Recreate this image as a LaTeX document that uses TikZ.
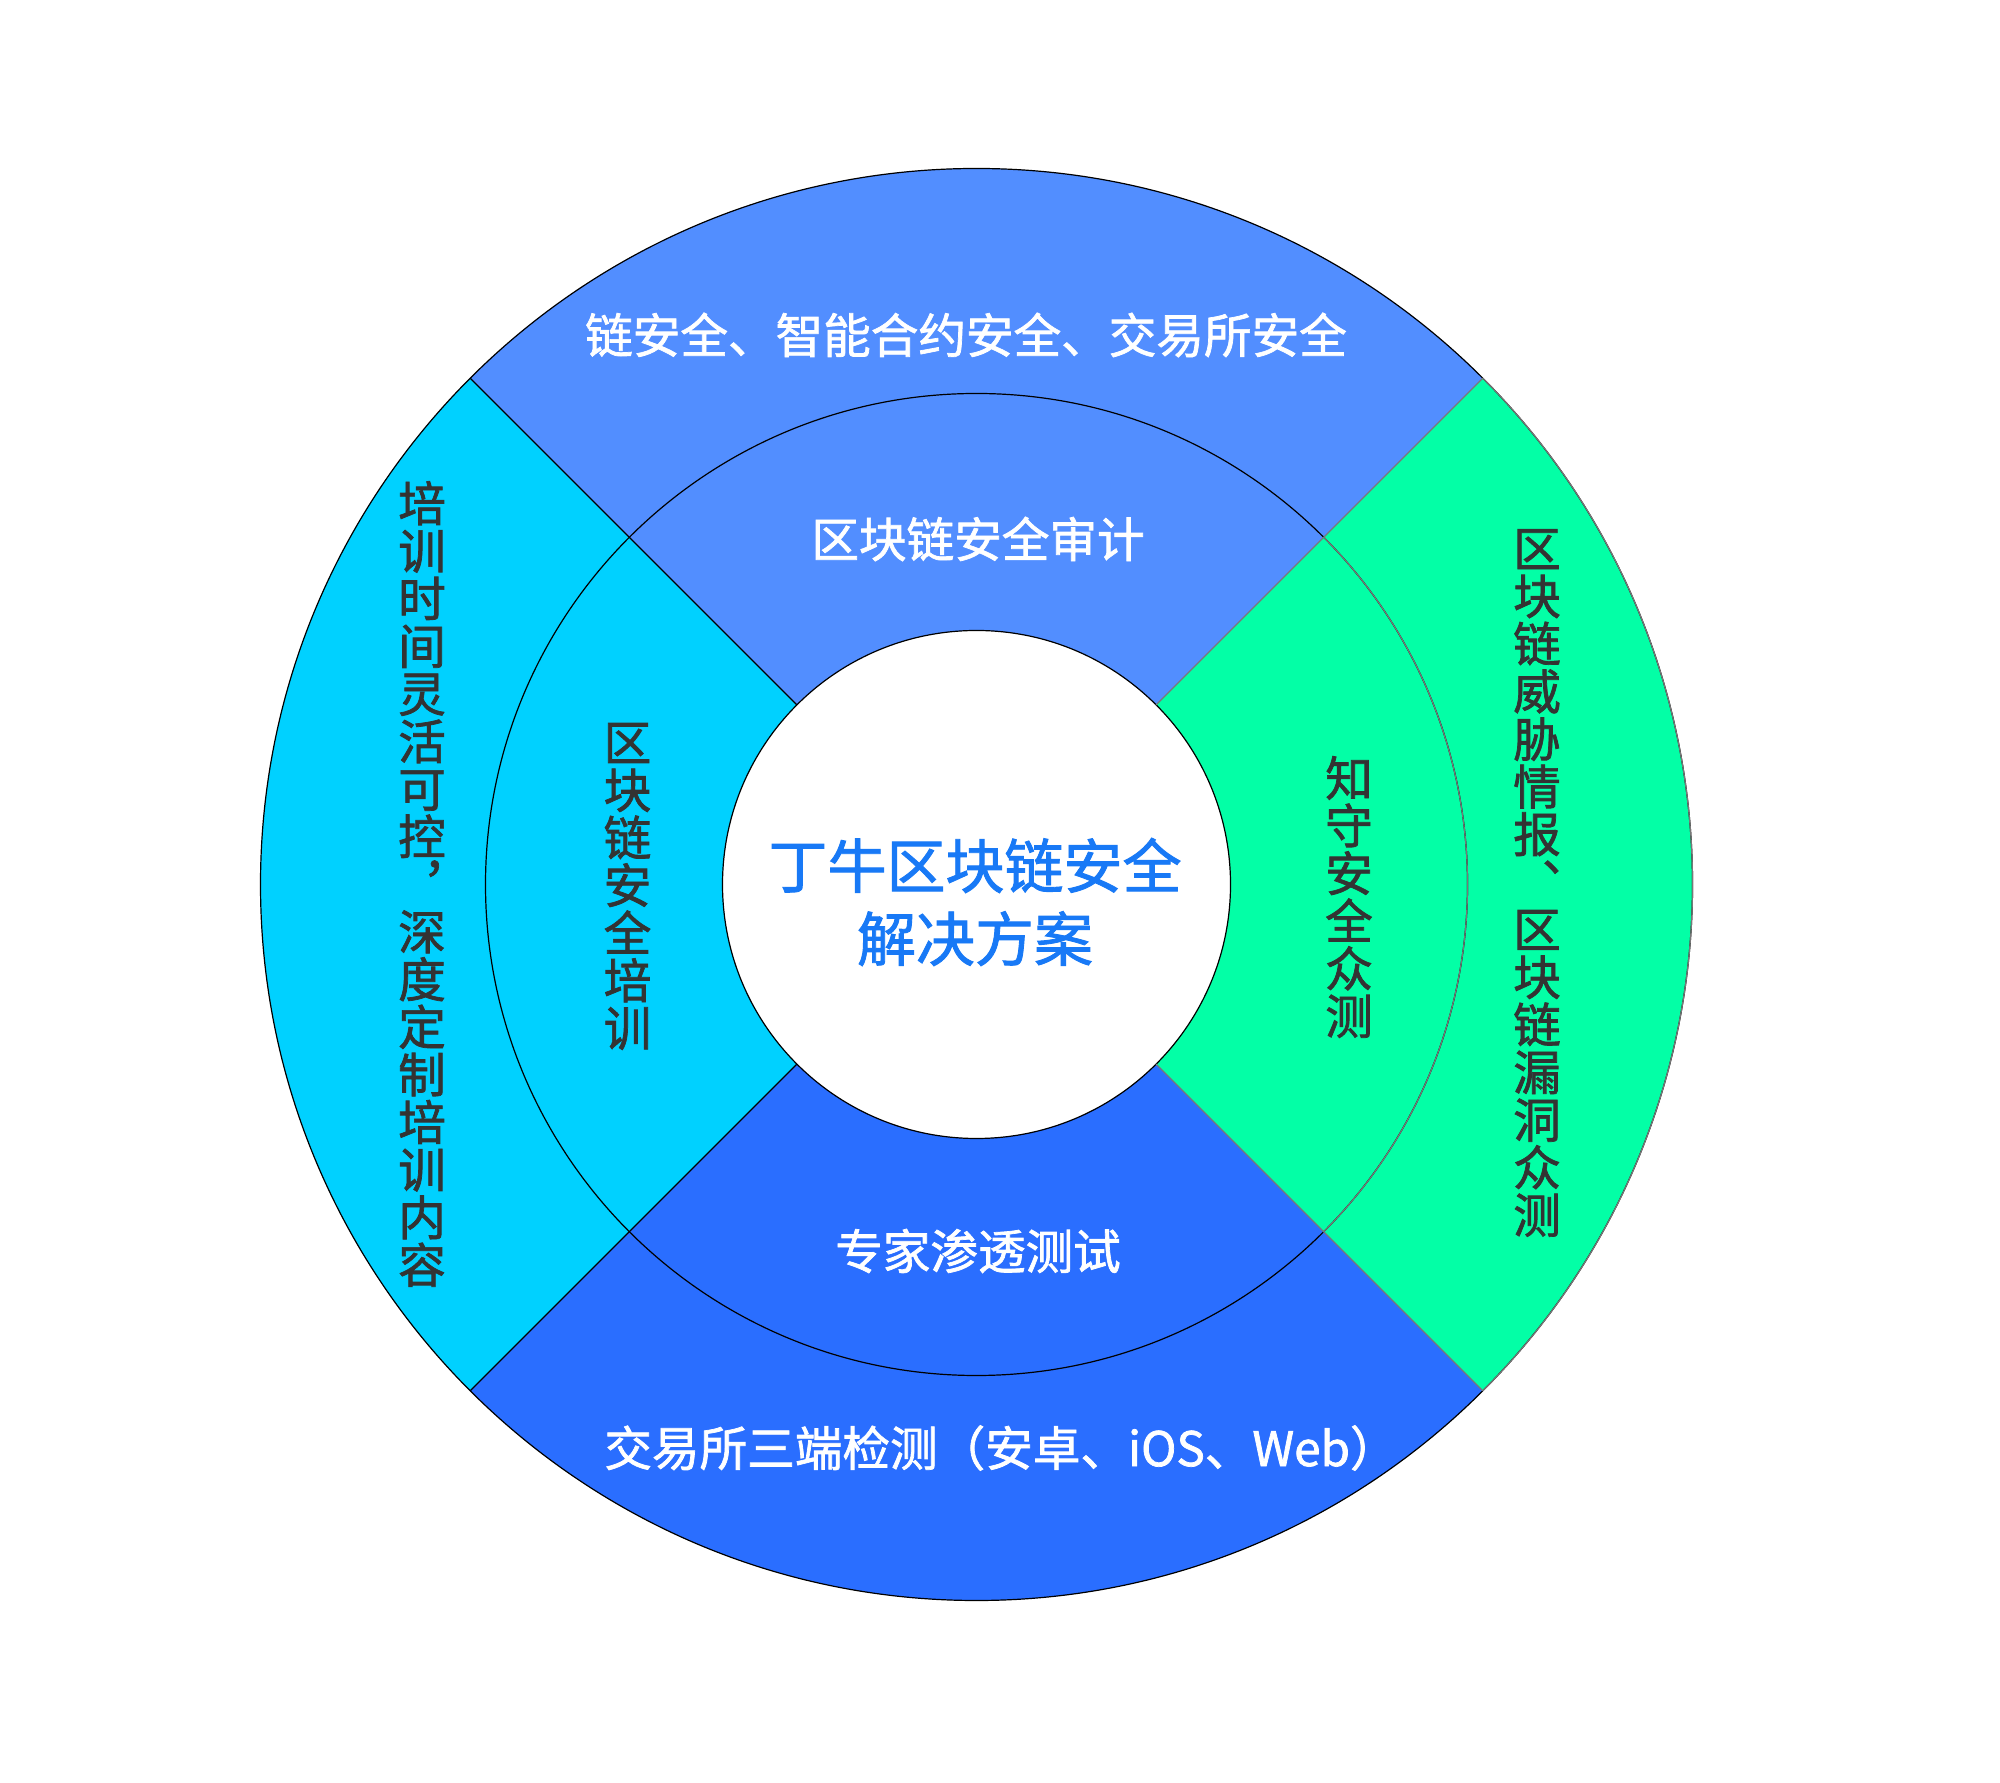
\documentclass[tikz,border=0pt]{standalone}
\usepackage{fontspec}
\setmainfont{Noto Sans CJK SC}[FakeBold=1.5]
\usetikzlibrary{calc}
\definecolor{topc}{RGB}{82,142,255}
\definecolor{botc}{RGB}{42,110,255}
\definecolor{leftc}{RGB}{0,209,255}
\definecolor{greenc}{RGB}{3,255,166}
\definecolor{darktext}{RGB}{51,51,51}
\definecolor{ctext}{RGB}{24,121,246}
\definecolor{edgegray}{RGB}{120,120,120}
\tikzset{
  wt/.style={text=white, font=\fontsize{23.8}{28}\selectfont, inner sep=0pt},
  vt/.style={text=darktext, font=\fontsize{23.8}{23.8}\selectfont, align=center, inner sep=0pt},
  ct/.style={text=ctext, font=\fontsize{29.5}{36.5}\selectfont, align=center, inner sep=0pt},
  ring/.style={draw=black, line width=0.6pt},
  gring/.style={draw=edgegray, line width=0.6pt}
}
\newcommand{\sector}[3]{%
  \fill[#3] ($(C)+(#1:716)$) arc[start angle=#1,end angle=#2,radius=716]
     -- ($(C)+(#2:254)$) arc[start angle=#2,end angle=#1,radius=254] -- cycle;}
\begin{document}
\begin{tikzpicture}[x=0.5pt,y=0.5pt]
\useasboundingbox (0,0) rectangle (2000,1782);
\fill[white] (0,0) rectangle (2000,1782);
\coordinate (C) at (976.5,897.5);
% sectors
\sector{45}{135}{topc}
\sector{135}{225}{leftc}
\sector{225}{315}{botc}
\sector{-45}{45}{greenc}
% outlines
\draw[ring] (C) circle[radius=716];
\draw[ring] (C) circle[radius=491];
\draw[ring] (C) circle[radius=254];
\foreach \a in {135,225} {
  \draw[ring] ($(C)+(\a:254)$) -- ($(C)+(\a:716)$);
}
% green sector edges in gray
\draw[gring] ($(C)+(-45:716)$) arc[start angle=-45,end angle=45,radius=716];
\draw[gring] ($(C)+(-45:491)$) arc[start angle=-45,end angle=45,radius=491];
\foreach \a in {45,-45} {
  \draw[gring] ($(C)+(\a:254)$) -- ($(C)+(\a:716)$);
}
% texts
\node[wt] (t1) at (966,1447) {链安全、智能合约安全、交易所安全};
\node[wt] (t2) at (978,1243) {区块链安全审计};
\node[wt] (t3) at (978,531) {专家渗透测试};
\node[wt] (t4) at (1001,334) {交易所三端检测（安卓、iOS、Web）};
\node[ct] (c) at (975,880) {丁牛区块链安全\\解决方案};
\node[vt] (l1) at (422,898) {培\\训\\时\\间\\灵\\活\\可\\控\\︐\\深\\度\\定\\制\\培\\训\\内\\容};
\node[vt] (l2) at (627.5,895.5) {区\\块\\链\\安\\全\\培\\训};
\node[vt] (r1) at (1349,885) {知\\守\\安\\全\\众\\测};
\node[vt] (r2) at (1537,899) {区\\块\\链\\威\\胁\\情\\报\\︑\\区\\块\\链\\漏\\洞\\众\\测};
\end{tikzpicture}
\end{document}
